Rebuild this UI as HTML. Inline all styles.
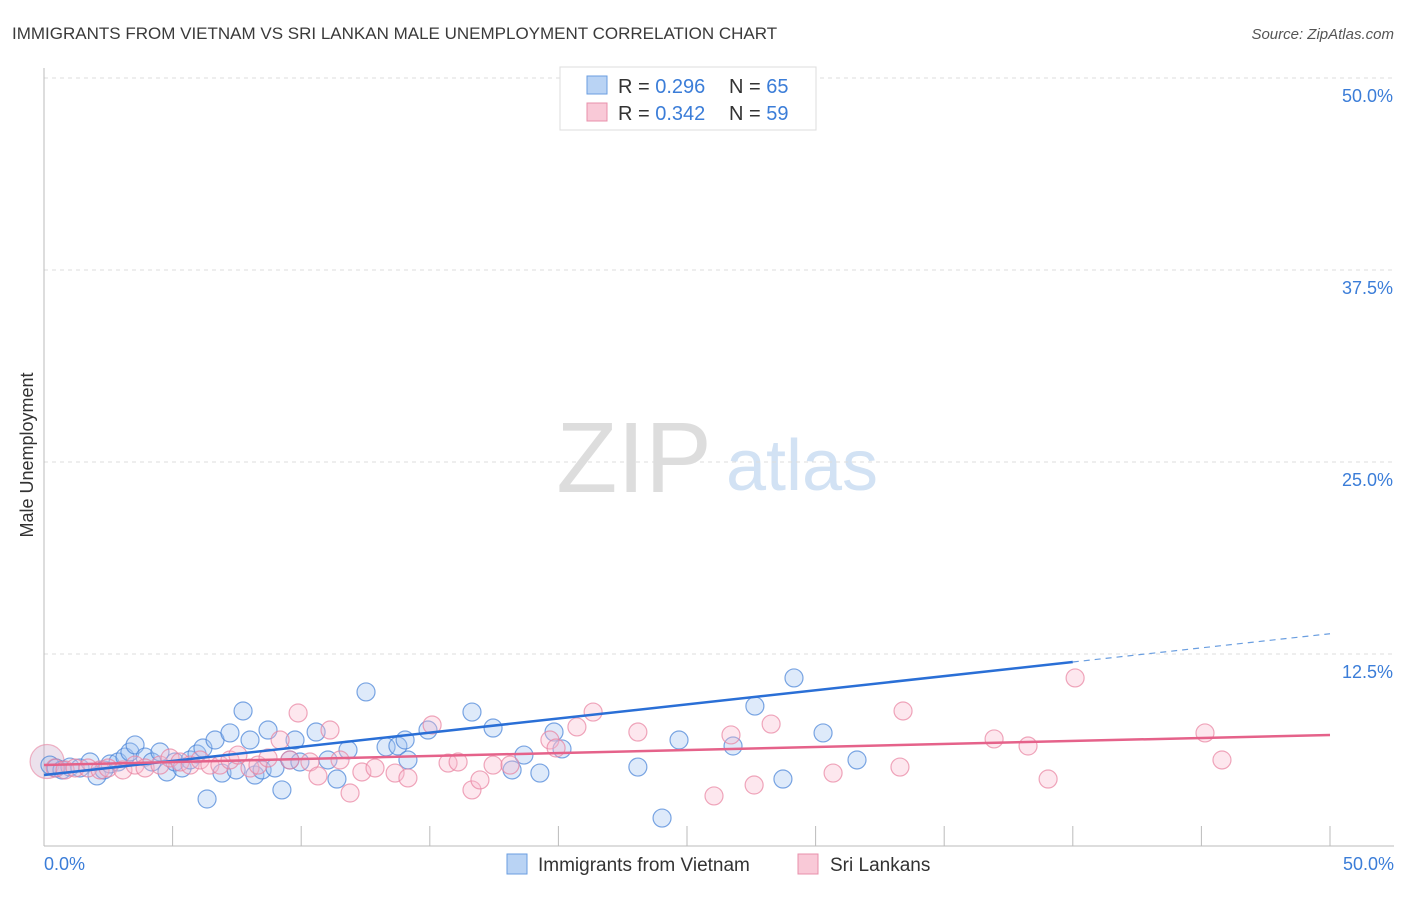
<!DOCTYPE html>
<html><head><meta charset="utf-8"><style>
body{margin:0;background:#fff;font-family:"Liberation Sans",sans-serif;}
svg text{font-family:"Liberation Sans",sans-serif;}
</style></head><body>
<svg id="chart" width="1406" height="892" viewBox="0 0 1406 892">
<text x="12" y="39" font-size="17" fill="#3a3a3a">IMMIGRANTS FROM VIETNAM VS SRI LANKAN MALE UNEMPLOYMENT CORRELATION CHART</text>
<text x="1394" y="39" font-size="15" fill="#555" font-style="italic" text-anchor="end">Source: ZipAtlas.com</text>
<g>
<text x="634" y="492" font-size="100" fill="#ddd" font-family="Liberation Serif" text-anchor="middle">ZIP</text>
<text x="802" y="490" font-size="72" fill="#d2e2f4" text-anchor="middle">atlas</text>
</g>
<g id="grid"></g>
<line x1="44" y1="68" x2="44" y2="846" stroke="#bbb"/>
<line x1="44" y1="846" x2="1394" y2="846" stroke="#bbb"/>
<text x="33" y="455" font-size="18" fill="#333" transform="rotate(-90 33 455)" text-anchor="middle">Male Unemployment</text>
<text x="44" y="870" font-size="18" fill="#3b7dd8">0.0%</text>
<text x="1394" y="870" font-size="18" fill="#3b7dd8" text-anchor="end">50.0%</text>
<g id="pts"></g>
<g id="lines"></g>
<g>
<rect x="560" y="67" width="256" height="63" fill="#fff" stroke="#ddd"/>
<rect x="587" y="76" width="20" height="18" fill="#b9d3f4" stroke="#6a9ee0"/>
<rect x="587" y="103" width="20" height="18" fill="#f9c9d7" stroke="#e890ab"/>
<text x="618" y="93" font-size="20" fill="#333">R = <tspan fill="#3b7dd8">0.296</tspan><tspan x="729">N = </tspan><tspan fill="#3b7dd8">65</tspan></text>
<text x="618" y="120" font-size="20" fill="#333">R = <tspan fill="#3b7dd8">0.342</tspan><tspan x="729">N = </tspan><tspan fill="#3b7dd8">59</tspan></text>
</g>
<g>
<rect x="507" y="854" width="20" height="20" fill="#b9d3f4" stroke="#6a9ee0"/>
<text x="538" y="871" font-size="19" fill="#333">Immigrants from Vietnam</text>
<rect x="798" y="854" width="20" height="20" fill="#f9c9d7" stroke="#e890ab"/>
<text x="830" y="871" font-size="19" fill="#333">Sri Lankans</text>
</g>
</svg>
<script>
const yTicks=[12.5,25,37.5,50];
const yTickLabels=["12.5%","25.0%","37.5%","50.0%"];
const xTicks=[0,5,10,15,20,25,30,35,40,45,50];
const blueX=[0.23,0.47,0.70,1.01,1.40,1.79,2.06,2.33,2.57,2.88,3.15,3.34,3.54,3.93,4.20,4.51,4.78,5.09,5.37,5.68,5.95,6.18,6.34,6.65,6.92,7.23,7.47,7.74,8.01,8.20,8.48,8.71,8.98,9.25,9.56,9.76,9.95,10.58,11.04,11.39,11.82,12.52,13.30,13.76,14.04,14.15,14.93,16.64,17.46,18.20,18.66,19.28,19.83,20.14,23.09,24.03,24.69,26.79,27.64,28.73,29.16,30.29,31.61,26.56];
const blueY=[5.27,5.08,4.95,5.14,5.08,5.47,4.56,4.95,5.34,5.47,5.79,6.12,6.58,5.79,5.47,6.12,4.82,5.47,5.08,5.60,5.99,6.38,3.06,6.90,4.75,7.36,4.95,8.79,6.90,4.62,4.95,7.55,5.08,3.65,5.60,6.90,5.47,7.42,5.60,4.36,6.25,10.03,6.45,6.51,6.90,5.60,7.55,8.72,7.68,4.95,5.92,4.75,7.42,6.32,5.14,1.82,6.90,6.51,9.11,4.36,10.94,7.36,5.60,48.11];
const pinkX=[0.43,0.82,1.21,1.71,2.18,2.49,3.07,3.54,3.93,4.51,4.90,5.29,5.68,6.07,6.45,6.84,7.23,7.54,8.01,8.32,8.71,9.18,9.56,9.88,10.34,10.65,11.12,11.51,11.90,12.36,12.87,13.65,14.15,15.09,15.71,16.10,16.64,16.95,17.46,18.12,19.67,19.91,20.72,21.35,23.09,26.05,26.71,27.61,28.27,30.68,33.28,33.40,36.94,38.26,39.04,40.09,45.14,45.80];
const pinkY=[5.08,4.95,5.08,5.08,4.95,5.08,4.95,5.27,5.08,5.27,5.73,5.47,5.27,5.60,5.27,5.27,5.60,5.92,5.08,5.27,5.73,6.90,5.60,8.66,5.47,4.56,7.55,5.60,3.45,4.82,5.08,4.75,4.43,7.88,5.40,5.47,3.65,4.30,5.27,5.27,6.90,6.38,7.75,8.72,7.42,3.26,7.23,3.97,7.94,4.75,5.14,8.79,6.97,6.51,4.36,10.94,7.36,5.60];
const bigPoint=[0.12,5.5];
const blueTrend=[4.62,0.184,40];
const pinkTrend=[5.27,0.0392];
const X=v=>44+v*25.72, Y=v=>846-v*15.36;
const NS="http://www.w3.org/2000/svg";
const grid=document.getElementById('grid');
yTicks.forEach((t,i)=>{
  const l=document.createElementNS(NS,'line');
  l.setAttribute('x1',44);l.setAttribute('x2',1394);l.setAttribute('y1',Y(t));l.setAttribute('y2',Y(t));
  l.setAttribute('stroke','#ddd');l.setAttribute('stroke-dasharray','4 4');
  
  
  grid.appendChild(l);
  const tx=document.createElementNS(NS,'text');
  tx.setAttribute('x',1393);tx.setAttribute('y',Y(t)+24);tx.setAttribute('text-anchor','end');
  tx.setAttribute('font-size','18');tx.setAttribute('fill','#3b7dd8');tx.textContent=yTickLabels[i];
  
  
  grid.appendChild(tx);
});
xTicks.forEach(t=>{
  const l=document.createElementNS(NS,'line');
  l.setAttribute('x1',X(t));l.setAttribute('x2',X(t));l.setAttribute('y1',826);l.setAttribute('y2',846);
  l.setAttribute('stroke','#bbb');
  
  
  grid.appendChild(l);
});
const pts=document.getElementById('pts');
function dot(x,y,r,fill,stroke,name){
  const c=document.createElementNS(NS,'circle');
  c.setAttribute('cx',X(x));c.setAttribute('cy',Y(y));c.setAttribute('r',r);
  c.setAttribute('fill',fill);c.setAttribute('stroke',stroke);c.setAttribute('stroke-width','1.2');
  
  
  pts.appendChild(c);
}
dot(bigPoint[0],bigPoint[1],17,'rgba(200,170,200,0.35)','rgba(232,130,160,0.6)','point-cluster');
blueX.forEach((x,i)=>dot(x,blueY[i],9,'rgba(160,195,240,0.35)','rgba(70,130,215,0.7)','point-vietnam'));
pinkX.forEach((x,i)=>dot(x,pinkY[i],9,'rgba(248,185,205,0.35)','rgba(232,130,160,0.7)','point-srilankan'));
const lines=document.getElementById('lines');
function ln(x1,x2,a,b,col,dash,name){
  const l=document.createElementNS(NS,'line');
  l.setAttribute('x1',X(x1));l.setAttribute('x2',X(x2));l.setAttribute('y1',Y(a+b*x1));l.setAttribute('y2',Y(a+b*x2));
  l.setAttribute('stroke',col);l.setAttribute('stroke-width',dash?1.2:2.5);
  if(dash)l.setAttribute('stroke-dasharray','6 5');
  
  
  lines.appendChild(l);
}
ln(0,blueTrend[2],blueTrend[0],blueTrend[1],'#2a6fd6',false,'trend-vietnam');
ln(blueTrend[2],50,blueTrend[0],blueTrend[1],'#6a9ee0',true,'trend-vietnam-extension');
ln(0,50,pinkTrend[0],pinkTrend[1],'#e5628a',false,'trend-srilankan');
</script>
</body></html>
